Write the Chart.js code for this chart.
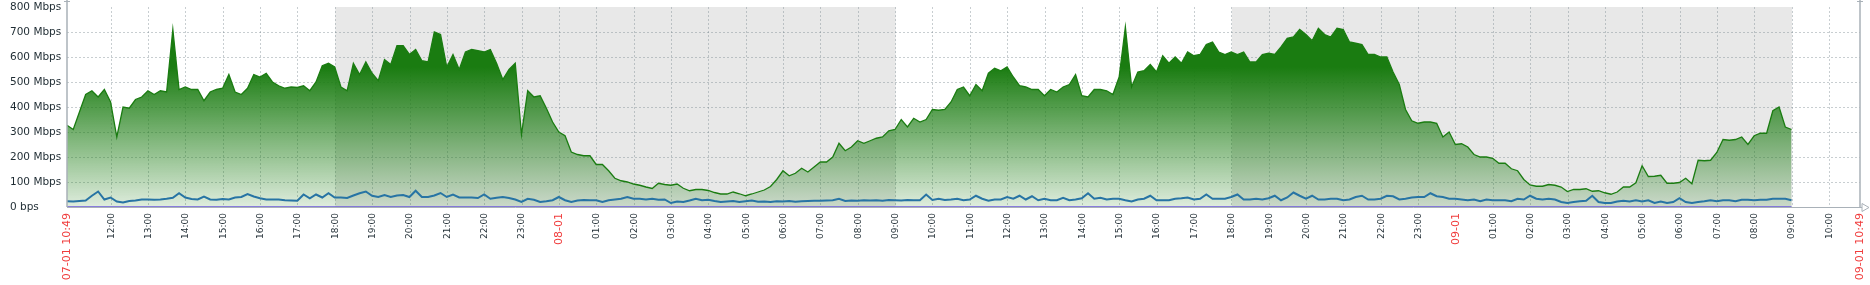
<!DOCTYPE html>
<html>
<head>
<meta charset="utf-8">
<title>Traffic graph</title>
<script src="https://cdn.jsdelivr.net/npm/chart.js@4.4.1/dist/chart.umd.min.js"></script>
<style>
  html, body { margin: 0; padding: 0; background: #fff; }
  #wrap { width: 1870px; height: 285px; }
</style>
</head>
<body>
<div id="wrap"><canvas id="graph" width="1870" height="285"></canvas></div>
<script>
// time axis: minutes from 07-01 10:49, samples every 10 min
const totalMinutes = 2880;
const sampleStep = 10;
const edgeLabels = ['07-01 10:49', '09-01 10:49'];
const dayLabels = ['08-01', '09-01'];
const firstHourTick = 71;      // 12:00
const firstMidnight = 791;     // 08-01 00:00

// non-working time (grey bands), minutes from start
const nightStart = [431, 1871];
const nightEnd = [1331, 2771];

// incoming traffic, Mbps (green)
const inbound = [
  327, 310, 380, 450, 465, 440, 470, 420, 280, 400, 395, 430,
  440, 465, 450, 465, 460, 710, 470, 480, 470, 470, 425, 460,
  470, 475, 530, 460, 450, 475, 530, 520, 535, 500, 485, 475,
  480, 478, 485, 465, 500, 565, 575, 560, 480, 465, 575, 530,
  580, 535, 505, 590, 570, 645, 645, 610, 630, 585, 580, 700,
  690, 560, 610, 550, 620, 630, 625, 620, 630, 575, 510, 550,
  575, 290, 465, 440, 445, 395, 340, 300, 285, 220, 210, 205,
  205, 170, 170, 145, 115, 105, 100, 92, 87, 80, 74, 95,
  90, 87, 92, 75, 65, 70, 70, 66, 58, 52, 52, 60,
  53, 45, 52, 60, 68, 82, 110, 145, 125, 135, 155, 140,
  160, 180, 180, 200, 255, 225, 240, 265, 255, 265, 275, 280,
  305, 310, 350, 320, 355, 340, 350, 390, 387, 390, 420, 470,
  480, 445, 490, 465, 535, 555, 545, 560, 520, 485, 480, 470,
  470, 445, 470, 460, 480, 490, 530, 445, 440, 470, 470, 465,
  450, 520, 720, 480, 540, 545, 570, 540, 605, 575, 600, 575,
  620, 605, 610, 650, 660, 620, 610, 620, 610, 620, 580, 580,
  610, 615, 610, 640, 675, 680, 710, 690, 665, 715, 690, 680,
  715, 710, 660, 655, 650, 610, 610, 600, 600, 540, 490, 390,
  345, 335, 340, 340, 335, 280, 300, 250, 253, 240, 210, 200,
  200, 195, 175, 175, 153, 145, 110, 88, 83, 83, 90, 87,
  80, 62, 70, 70, 73, 63, 65, 57, 51, 60, 80, 80,
  97, 165, 122, 123, 127, 95, 95, 98, 115, 93, 187, 185,
  187, 218, 270, 267, 270, 280, 250, 285, 295, 295, 385, 400,
  320, 310
];

// outgoing traffic, Mbps (blue)
const outbound = [
  23, 22, 24, 26, 45, 62, 30, 38, 22, 18, 24, 26,
  30, 30, 29, 30, 33, 37, 55, 38, 32, 30, 42, 30,
  29, 32, 30, 38, 40, 52, 42, 35, 30, 30, 30, 27,
  26, 25, 50, 35, 50, 38, 55, 38, 38, 36, 46, 55,
  62, 45, 40, 48, 40, 46, 48, 40, 65, 40, 40, 46,
  56, 40, 50, 38, 38, 38, 36, 50, 33, 37, 40, 36,
  30, 20, 33, 29, 20, 23, 27, 40, 27, 20, 26, 28,
  27, 27, 20, 27, 30, 33, 40, 33, 33, 30, 33, 29,
  30, 16, 22, 20, 26, 33, 27, 29, 24, 20, 22, 24,
  20, 23, 26, 21, 22, 20, 23, 22, 24, 21, 23, 24,
  25, 25, 26, 27, 33, 24, 26, 25, 27, 26, 27, 25,
  28, 27, 26, 28, 27, 27, 50, 28, 33, 28, 30, 33,
  27, 30, 45, 33, 25, 30, 30, 40, 33, 45, 30, 43,
  27, 33, 27, 27, 37, 27, 30, 35, 55, 33, 37, 30,
  33, 33, 27, 22, 30, 33, 45, 27, 27, 27, 33, 35,
  38, 30, 33, 50, 33, 33, 33, 40, 50, 30, 30, 33,
  30, 35, 45, 27, 38, 58, 45, 33, 45, 30, 30, 33,
  33, 27, 30, 40, 45, 30, 30, 33, 45, 43, 30, 33,
  38, 40, 40, 55, 43, 40, 33, 33, 30, 27, 30, 23,
  30, 27, 27, 27, 23, 33, 30, 45, 33, 30, 33, 30,
  20, 16, 20, 23, 25, 45, 20, 16, 16, 22, 25, 22,
  27, 22, 27, 16, 22, 16, 20, 35, 20, 16, 20, 23,
  27, 23, 27, 27, 23, 29, 29, 27, 29, 29, 33, 33,
  33, 27
];

// third item, flat at zero (purple)
const flatTimes = [0, 2770];
const flatValues = [0, 0];

const yTicks = [0, 100, 200, 300, 400, 500, 600, 700, 800];

const green = '26,124,17';
const fontFamily = "'DejaVu Sans', sans-serif";

const xTicks = [0];
for (let m = firstHourTick; m < totalMinutes - 30; m += 60) xTicks.push(m);
xTicks.push(totalMinutes);

function isMidnight(v) {
  return v >= firstMidnight && (v - firstMidnight) % 1440 === 0;
}
function isRed(v) {
  return v === 0 || v === totalMinutes || isMidnight(v);
}
function xLabel(v) {
  if (v === 0) return edgeLabels[0];
  if (v === totalMinutes) return edgeLabels[1];
  if (isMidnight(v)) return dayLabels[Math.round((v - firstMidnight) / 1440)];
  const h = (12 + (v - firstHourTick) / 60) % 24;
  return String(h).padStart(2, '0') + ':00';
}
const tickValue = ctx => (ctx && ctx.tick) ? ctx.tick.value : -1;

const toPoints = (times, values) => values.map((v, i) => ({ x: times[i], y: v }));
const sampleTimes = inbound.map((_, i) => i * sampleStep);

// grey bands behind everything, axis lines on top
const backdrop = {
  id: 'backdrop',
  beforeDraw(chart) {
    const { ctx, chartArea: a, scales: { x } } = chart;
    ctx.save();
    ctx.fillStyle = '#e8e8e8';
    nightStart.forEach((s, i) => {
      const x1 = x.getPixelForValue(s);
      const x2 = x.getPixelForValue(nightEnd[i]);
      ctx.fillRect(x1, a.top, x2 - x1, a.bottom - a.top);
    });
    ctx.restore();
  },
  afterDraw(chart) {
    const { ctx, chartArea: a } = chart;
    ctx.save();
    ctx.strokeStyle = '#a9b1b8';
    ctx.lineWidth = 1.5;
    ctx.beginPath();
    ctx.moveTo(a.left, 0); ctx.lineTo(a.left, a.bottom);
    ctx.moveTo(a.right, 0); ctx.lineTo(a.right, a.bottom);
    ctx.stroke();
    ctx.lineWidth = 1;
    ctx.beginPath();
    ctx.moveTo(a.left - 3, 1.5); ctx.lineTo(a.left + 3, 1.5);
    ctx.moveTo(a.right - 3, 1.5); ctx.lineTo(a.right + 3, 1.5);
    ctx.moveTo(a.left, a.bottom + 0.5); ctx.lineTo(a.right + 2, a.bottom + 0.5);
    ctx.moveTo(a.right + 2, a.bottom - 3.5);
    ctx.lineTo(a.right + 9, a.bottom + 0.5);
    ctx.lineTo(a.right + 2, a.bottom + 4.5);
    ctx.closePath();
    ctx.stroke();
    ctx.restore();
  }
};

new Chart(document.getElementById('graph'), {
  type: 'line',
  data: {
    datasets: [
      {
        data: toPoints(flatTimes, flatValues),
        borderColor: '#6c59dc',
        borderWidth: 1.5,
        pointRadius: 0,
        order: 1
      },
      {
        data: toPoints(sampleTimes, outbound),
        borderColor: '#2774a4',
        borderWidth: 2,
        pointRadius: 0,
        order: 2
      },
      {
        data: toPoints(sampleTimes, inbound),
        borderColor: 'rgb(' + green + ')',
        borderWidth: 1.3,
        pointRadius: 0,
        fill: 'origin',
        order: 3,
        backgroundColor(context) {
          const chart = context.chart;
          if (!chart.chartArea) return 'rgba(' + green + ',0.5)';
          const y = chart.scales.y;
          const g = chart.ctx.createLinearGradient(0, y.getPixelForValue(0), 0, y.getPixelForValue(800));
          g.addColorStop(0, 'rgba(' + green + ',0.14)');
          g.addColorStop(0.7, 'rgba(' + green + ',1)');
          g.addColorStop(1, 'rgba(' + green + ',1)');
          return g;
        }
      }
    ]
  },
  options: {
    responsive: false,
    animation: false,
    devicePixelRatio: 1,
    parsing: false,
    layout: { padding: { left: 10, right: 10, top: 7, bottom: 0 } },
    plugins: { legend: { display: false }, tooltip: { enabled: false } },
    elements: { line: { tension: 0 } },
    scales: {
      x: {
        type: 'linear',
        min: 0,
        max: totalMinutes,
        z: 1,
        afterBuildTicks(scale) {
          scale.ticks = xTicks.map(v => ({ value: v }));
        },
        afterFit(scale) {
          scale.height = 78;
          scale.paddingLeft = 0;
          scale.paddingRight = 0;
        },
        grid: {
          drawTicks: false,
          color: ctx => {
            const v = tickValue(ctx);
            return (v === 0 || v === totalMinutes) ? 'rgba(0,0,0,0)' : 'rgba(110,125,135,0.38)';
          }
        },
        border: { display: false, dash: [2, 2] },
        ticks: {
          autoSkip: false,
          maxRotation: 90,
          minRotation: 90,
          padding: 6,
          callback: v => xLabel(v),
          color: ctx => isRed(tickValue(ctx)) ? '#f03c3c' : '#1f2c33',
          font: ctx => ({ family: fontFamily, size: isRed(tickValue(ctx)) ? 11 : 9 })
        }
      },
      y: {
        min: 0,
        max: 800,
        z: 1,
        afterBuildTicks(scale) {
          scale.ticks = yTicks.map(v => ({ value: v }));
        },
        afterFit(scale) {
          scale.width = 57;
          scale.paddingTop = 0;
          scale.paddingBottom = 0;
        },
        grid: {
          drawTicks: false,
          color: ctx => {
            const v = tickValue(ctx);
            return (v === 0 || v === 800) ? 'rgba(0,0,0,0)' : 'rgba(110,125,135,0.38)';
          }
        },
        border: { display: false, dash: [2, 2] },
        ticks: {
          crossAlign: 'far',
          padding: 0,
          callback: v => v === 0 ? '0 bps' : v + ' Mbps',
          color: '#1f2c33',
          font: { family: fontFamily, size: 10.5 }
        }
      }
    }
  },
  plugins: [backdrop]
});
</script>
</body>
</html>
